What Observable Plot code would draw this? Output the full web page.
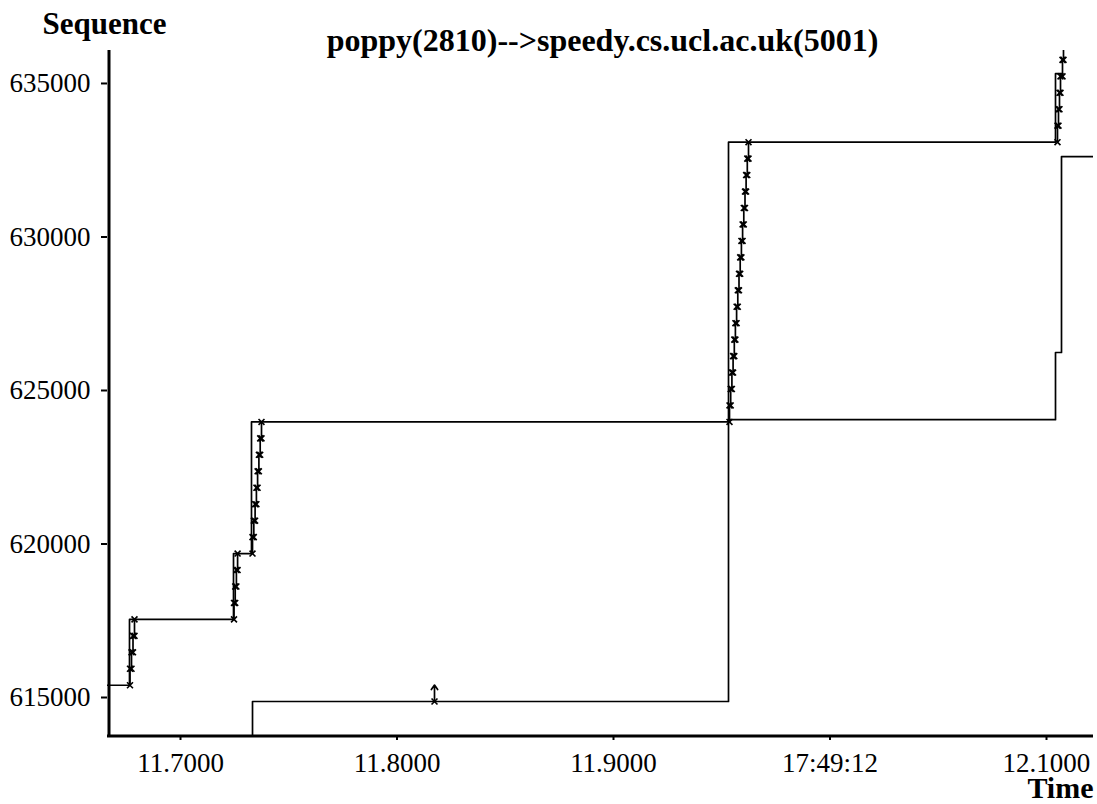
<!DOCTYPE html>
<html><head><meta charset="utf-8">
<script src="https://cdn.jsdelivr.net/npm/d3@7"></script>
<script src="https://cdn.jsdelivr.net/npm/@observablehq/plot@0.6"></script>
<style>body{margin:0;background:#fff;}</style>
</head><body><div id="chart"></div>
<script>
const titleText = "poppy(2810)-->speedy.cs.ucl.ac.uk(5001)";
const yLabelText = "Sequence";
const xLabelText = "Time";
const xTicks = [11.7, 11.8, 11.9, 12.0, 12.1];
const xTickLabels = ["11.7000", "11.8000", "11.9000", "17:49:12", "12.1000"];
const yTicks = [615000, 620000, 625000, 630000, 635000];
const xDomain = [11.66628, 12.12171];
const yDomain = [613730, 636074];

// advertised window (upper staircase)
const winTime = [11.66628, 11.67644, 11.72448, 11.73279, 11.95312, 12.10416, 12.10739];
const winSeq  = [615400, 617544, 619688, 623976, 633088, 635324, 635324];

// acknowledgements (lower staircase)
const ackTime = [11.73326, 11.73326, 11.95312, 12.10416, 12.10693, 12.12171];
const ackSeq  = [613000, 614870, 624050, 626237, 632620, 632620];

// data segments
const segTime = [
  11.67667, 11.67737, 11.67806, 11.67875,
  11.72471, 11.72527, 11.72582, 11.72637,
  11.73326, 11.73386, 11.73446, 11.73506, 11.73561, 11.73621, 11.73681, 11.73741,
  11.95358, 11.95413, 11.95469, 11.95524, 11.95580, 11.95630, 11.95686, 11.95741, 11.95797,
  11.95852, 11.95908, 11.95963, 11.96018, 11.96074, 11.96125, 11.96180, 11.96236,
  12.10508, 12.10554, 12.10600, 12.10647, 12.10739, 12.10785
];
const segSeq = [
  615400, 615936, 616472, 617008,
  617544, 618080, 618616, 619152,
  619688, 620224, 620760, 621296, 621832, 622368, 622904, 623440,
  623976, 624512, 625048, 625584, 626120, 626656, 627192, 627728, 628264,
  628800, 629336, 629872, 630408, 630944, 631480, 632016, 632552,
  633088, 633624, 634160, 634696, 635232, 635768
];
const segLen = 536;

// retransmitted segment
const retxTime = [11.81732];
const retxSeq = [614870];

const win = winTime.map((t, i) => ({t, s: winSeq[i]}));
const ack = ackTime.map((t, i) => ({t, s: ackSeq[i]}));
const segs = segTime.map((t, i) => ({t, s0: segSeq[i], s1: segSeq[i] + segLen}));
const retx = retxTime.map((t, i) => ({t, s0: retxSeq[i], s1: retxSeq[i] + segLen}));

const font = "'Liberation Serif', 'Times New Roman', serif";

const chart = Plot.plot({
  width: 1097,
  height: 804,
  marginTop: 50,
  marginBottom: 68,
  marginLeft: 107,
  marginRight: 4,
  style: {fontFamily: font, background: "white", color: "black"},
  x: {domain: xDomain, axis: null, label: null},
  y: {domain: yDomain, axis: null, label: null},
  marks: [
    Plot.line(win, {x: "t", y: "s", curve: "step-after", stroke: "black", strokeWidth: 1.7, clip: true}),
    Plot.line(ack, {x: "t", y: "s", curve: "step-after", stroke: "black", strokeWidth: 1.7, clip: true}),
    Plot.link(segs, {x1: "t", x2: "t", y1: "s0", y2: "s1", stroke: "black", strokeWidth: 1.7, clip: true}),
    Plot.dot(segs, {x: "t", y: "s1", symbol: "times", r: 2.8, stroke: "black", strokeWidth: 1.6, clip: true}),
    Plot.dot(segs, {x: "t", y: "s0", symbol: "times", r: 2.8, stroke: "black", strokeWidth: 1.6, clip: true}),
    Plot.arrow(retx, {x1: "t", x2: "t", y1: "s0", y2: "s1", stroke: "black", strokeWidth: 1.7, headLength: 7, headAngle: 70, clip: true}),
    Plot.dot(retx, {x: "t", y: "s0", symbol: "times", r: 2.8, stroke: "black", strokeWidth: 1.6}),
    Plot.ruleX([xDomain[0]], {stroke: "black", strokeWidth: 3, dx: 1.5}),
    Plot.ruleY([yDomain[0]], {stroke: "black", strokeWidth: 3, dy: -0.5}),
    Plot.axisY(yTicks, {anchor: "left", label: null, tickSize: 6, tickPadding: 11, fontSize: 27, fontFamily: font, strokeWidth: 2, fill: "black", tickFormat: d => String(d)}),
    Plot.axisX(xTicks, {anchor: "bottom", label: null, tickSize: 4, tickPadding: 12, fontSize: 27, fontFamily: font, strokeWidth: 2, fill: "black", tickFormat: d => xTickLabels[xTicks.indexOf(d)]}),
    Plot.text([titleText], {frameAnchor: "top", lineAnchor: "bottom", dx: 2, dy: 0, fontSize: 32, fontWeight: "bold", fontFamily: font, fill: "black"}),
    Plot.text([yLabelText], {frameAnchor: "top-left", textAnchor: "start", lineAnchor: "bottom", dx: -65, dy: -17, fontSize: 31, fontWeight: "bold", fontFamily: font, fill: "black"}),
    Plot.text([xLabelText], {frameAnchor: "bottom-right", textAnchor: "end", lineAnchor: "middle", dx: 0, dy: 52, fontSize: 30, fontWeight: "bold", fontFamily: font, fill: "black"})
  ]
});
document.getElementById("chart").appendChild(chart);
</script>
</body></html>
